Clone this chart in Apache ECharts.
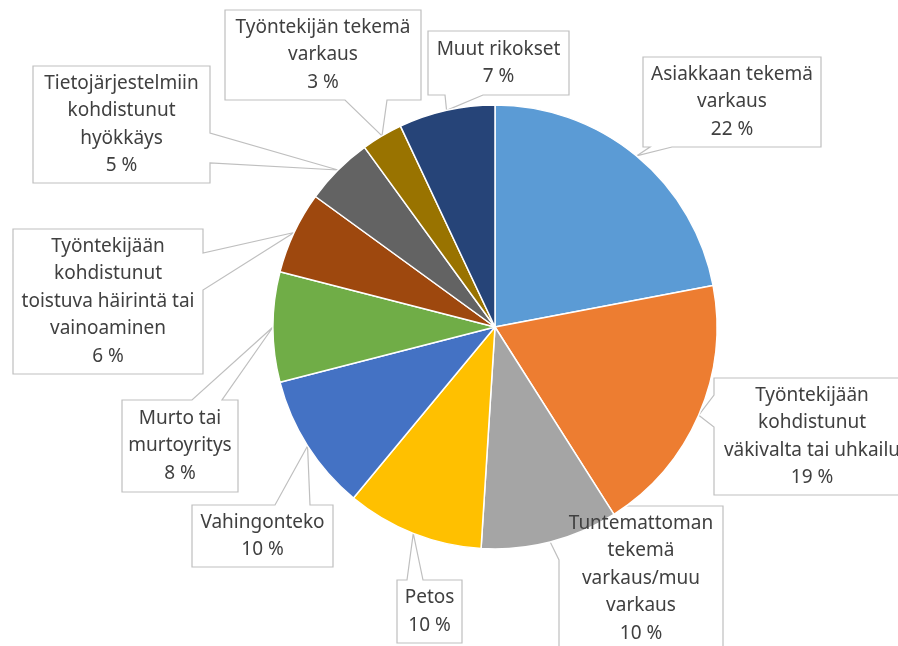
<!DOCTYPE html>
<html>
<head>
<meta charset="utf-8">
<script src="https://cdn.jsdelivr.net/npm/echarts@6/dist/echarts.min.js"></script>
<style>
html,body{margin:0;padding:0;background:#fff}
#c{width:898px;height:646px}
</style>
</head>
<body>
<div id="c"></div>
<script>
// ---- data ----
const categories = [
  'Asiakkaan tekemä\nvarkaus',
  'Työntekijään\nkohdistunut\nväkivalta tai uhkailu',
  'Tuntemattoman\ntekemä\nvarkaus/muu\nvarkaus',
  'Petos',
  'Vahingonteko',
  'Murto tai\nmurtoyritys',
  'Työntekijään\nkohdistunut\ntoistuva häirintä tai\nvainoaminen',
  'Tietojärjestelmiin\nkohdistunut\nhyökkäys',
  'Työntekijän tekemä\nvarkaus',
  'Muut rikokset'
];
const values = [22, 19, 10, 10, 10, 8, 6, 5, 3, 7];

// ---- styles / layout ----
const colors = ['#5B9BD5','#ED7D31','#A5A5A5','#FFC000','#4472C4','#70AD47','#9E480E','#636363','#997300','#264478'];
// callout boxes: [left, top, width, height], side of pointer wedge, wedge base offsets along that side
const callouts = [
  {box:[643, 57, 178, 90],  side:'bottom', base:[7, 29]},
  {box:[714, 378, 196, 117], side:'left',  base:[17, 49]},
  {box:[559, 506, 164, 145], side:'left',  base:[24, 54]},
  {box:[397, 580, 65, 63],   side:'top',   base:[10, 26]},
  {box:[192, 505, 141, 62],  side:'top',   base:[83, 118]},
  {box:[122, 400, 116, 92],  side:'top',   base:[70, 100]},
  {box:[13, 229, 190, 145],  side:'right', base:[24, 61]},
  {box:[33, 66, 177, 117],   side:'right', base:[67, 97]},
  {box:[225, 10, 196, 90],   side:'bottom', base:[120, 162]},
  {box:[428, 31, 141, 64],   side:'bottom', base:[17, 55]}
];
const LH = 27.5;

function labelLines(name, value) {
  return name.split('\n').concat([value + ' %']);
}

const chart = echarts.init(document.getElementById('c'));
chart.setOption({
  animation: false,
  backgroundColor: '#fff',
  series: [{
    type: 'pie',
    center: [495, 327],
    radius: 222,
    startAngle: 90,
    clockwise: true,
    avoidLabelOverlap: false,
    itemStyle: {borderColor: '#fff', borderWidth: 1.5},
    data: categories.map((n, i) => {
      const [L, T, W, H] = callouts[i].box;
      const nLines = labelLines(n, values[i]).length;
      return {
        name: n,
        value: values[i],
        itemStyle: {color: colors[i]},
        label: {width: W, padding: [(H - nLines * LH) / 2, 0]}
      };
    }),
    label: {
      show: true,
      position: 'outside',
      overflow: 'none',
      formatter: p => labelLines(p.name, p.value).map(s => '{t|' + s + '}').join('\n'),
      rich: {
        t: {align: 'center', fontSize: 19, lineHeight: LH, color: '#404040', fontFamily: 'Noto Sans'}
      }
    },
    labelLine: {show: true, lineStyle: {color: '#bfbfbf', width: 1.2}},
    labelLayout: function (p) {
      const c = callouts[p.dataIndex];
      const [L, T, W, H] = c.box;
      const R = L + W, B = T + H;
      const x = p.align === 'right' ? R : (p.align === 'center' ? L + W / 2 : L);
      const y = p.verticalAlign === 'top' ? T : (p.verticalAlign === 'bottom' ? B : T + H / 2);
      const tip = p.labelLinePoints[0];
      const [a, b] = c.base;
      let pts;
      if (c.side === 'top') pts = [[L + a, T], [L, T], [L, B], [R, B], [R, T], [L + b, T]];
      else if (c.side === 'bottom') pts = [[L + a, B], [L, B], [L, T], [R, T], [R, B], [L + b, B]];
      else if (c.side === 'left') pts = [[L, T + a], [L, T], [R, T], [R, B], [L, B], [L, T + b]];
      else pts = [[R, T + a], [R, T], [L, T], [L, B], [R, B], [R, T + b]];
      return {x: x, y: y, labelLinePoints: [tip].concat(pts, [tip])};
    }
  }]
});
</script>
</body>
</html>
